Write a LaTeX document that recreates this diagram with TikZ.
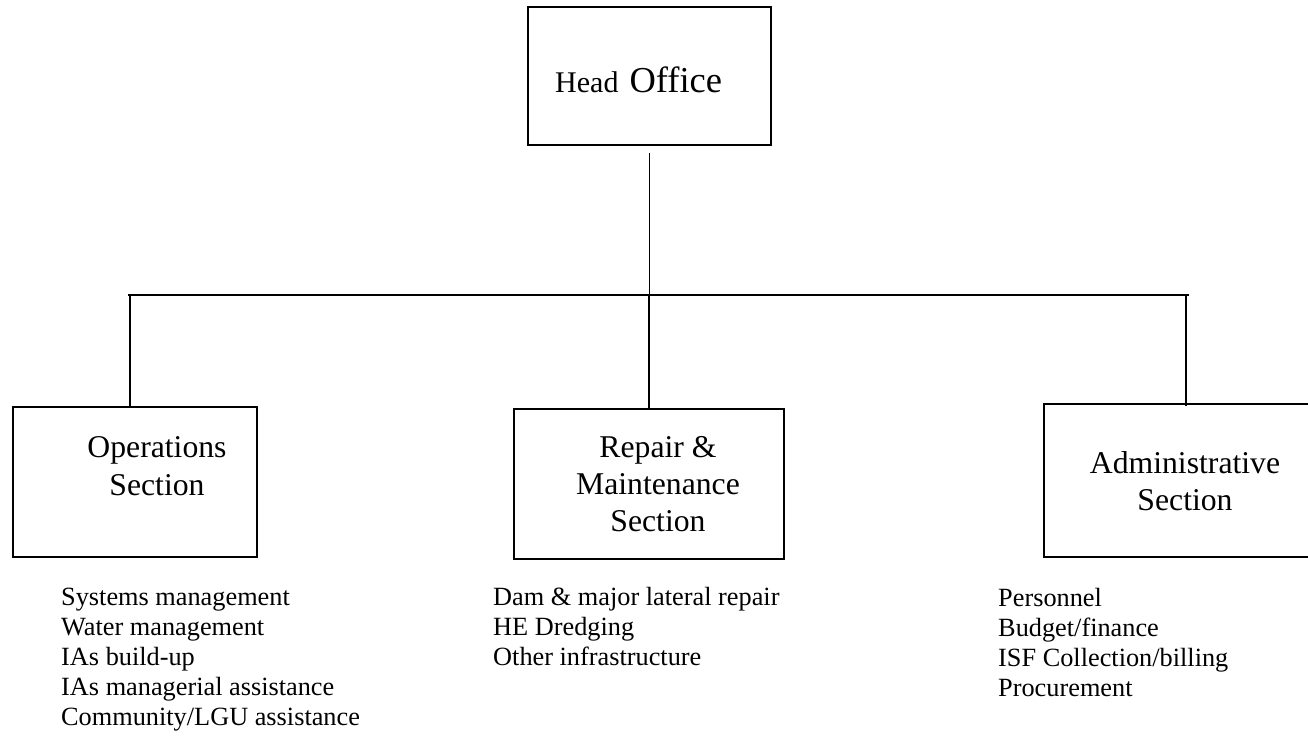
\documentclass[tikz,border=0pt]{standalone}
\usepackage{fontspec}
\setmainfont{Liberation Serif}
\begin{document}
\begin{tikzpicture}[x=1pt,y=-1pt,
  unitbox/.style={draw=black, line width=1.8pt, rectangle, inner sep=0pt},
  link/.style={draw=black, line width=1.7pt},
  boxtext/.style={inner sep=0pt, anchor=base, font=\fontsize{31.7}{38}\selectfont},
  duty/.style={inner sep=0pt, anchor=base west, font=\fontsize{26.3}{30}\selectfont}]
\useasboundingbox (0,0) rectangle (1308,743);
\clip (0,0) rectangle (1308,743);

% boxes
\node[unitbox, minimum width=243pt, minimum height=138pt] (head) at (649.5,76) {};
\node[unitbox, minimum width=244pt, minimum height=150pt] (ops) at (135,482) {};
\node[unitbox, minimum width=270pt, minimum height=150pt] (rep) at (649,484) {};
\node[unitbox, minimum width=296pt, minimum height=153pt] (adm) at (1192,480.5) {};

% box titles
\node[inner sep=0pt, anchor=base west] (headtxt) at (555,93)
  {{\fontsize{30}{36}\selectfont Head\hspace{11pt}}{\fontsize{36.5}{44}\selectfont Office}};
\node[boxtext] (opsA) at (157,457) {Operations};
\node[boxtext] (opsB) at (157,495) {Section};
\node[boxtext] (repA) at (658,457) {Repair \&};
\node[boxtext] (repB) at (658,494) {Maintenance};
\node[boxtext] (repC) at (658,531) {Section};
\node[boxtext] (admA) at (1185,473) {Administrative};
\node[boxtext] (admB) at (1185,510) {Section};

% connectors
\coordinate (busL) at (128,295);
\coordinate (busR) at (1189,295);
\coordinate (opsJ) at (130,295);
\coordinate (repJ) at (649,295);
\coordinate (admJ) at (1186,295);
\draw[link, shorten <=7pt] (head.south) -- (head.south |- repJ);
\draw[link] (busL) -- (busR);
\draw[link] (opsJ) -- (opsJ |- ops.north);
\draw[link] (repJ) -- (repJ |- rep.north);
\draw[link] (admJ) -- ([yshift=-3pt]admJ |- adm.north);

% duties under each section
\foreach \t [count=\i] in {Systems management, Water management, IAs build-up,
    IAs managerial assistance, Community/LGU assistance}
  \node[duty] (opsd\i) at (61,575+30*\i) {\t};
\foreach \t [count=\i] in {Dam \& major lateral repair, HE Dredging, Other infrastructure}
  \node[duty] (repd\i) at (493,575+30*\i) {\t};
\foreach \t [count=\i] in {Personnel, Budget/finance, ISF Collection/billing, Procurement}
  \node[duty] (admd\i) at (998,576+30*\i) {\t};
\end{tikzpicture}
\end{document}
